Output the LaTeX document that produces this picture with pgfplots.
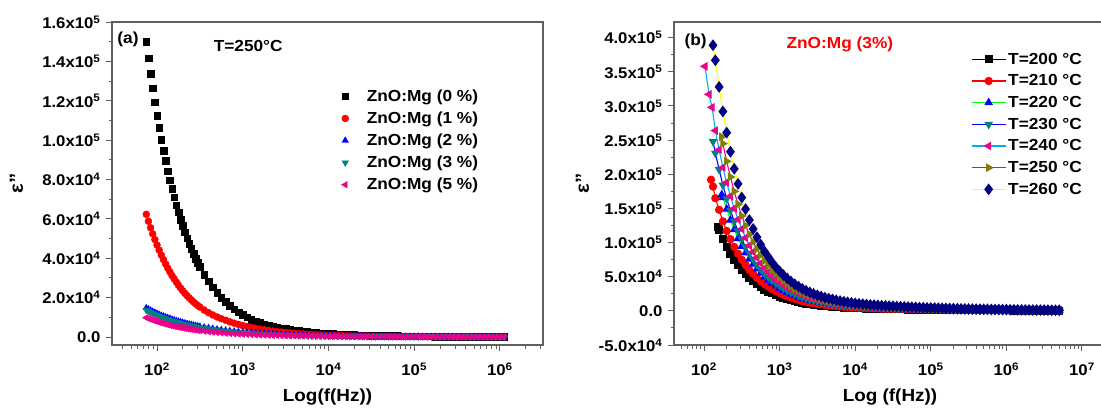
\documentclass[border=0pt]{standalone}
\usepackage{fontspec}
\setmainfont{Liberation Sans}[FakeStretch=1.08]
\usepackage{pgfplots}
\usepackage{pgfplotstable}
\pgfplotsset{compat=1.18}
\definecolor{axgray}{HTML}{606060}
\definecolor{tealc}{HTML}{008080}
\definecolor{olivec}{HTML}{808000}
\definecolor{navyc}{HTML}{000080}
\definecolor{greenl}{HTML}{00FF00}
\definecolor{yellowl}{HTML}{FFFF00}
\newcommand{\tkf}{\bfseries\fontsize{15.5}{18}\selectfont}
\newcommand{\lgf}{\bfseries\fontsize{16}{18}\selectfont}
\newcommand{\lbf}{\bfseries\fontsize{17.5}{20}\selectfont}

\pgfplotstableread{
f s0 s1 s2 s3 s5
75.0 150000 62300 14700 13700 9800
79.4 141700 58800 14100 13100 9400
84.1 133800 55500 13500 12600 9000
89.1 126300 52400 12900 12000 8600
94.4 119200 49500 12400 11500 8200
100 112500 46700 11900 11100 7800
105.9 106200 44100 11400 10600 7450
112.2 100300 41600 10900 10100 7100
118.9 94600 39300 10500 9800 6800
125.9 89400 37100 10100 9400 6500
133.4 84300 35000 9700 9000 6200
141.3 79600 33100 9300 8650 5950
149.6 75200 31200 8900 8300 5700
158.5 71000 29500 8600 8000 5450
167.9 67000 27900 8200 7600 5200
177.8 63300 26300 7900 7350 5000
188.4 59700 24900 7600 7050 4800
199.5 56400 23500 7300 6800 4600
211.3 53200 22200 7000 6500 4400
223.9 50200 21000 6700 6250 4200
237.1 47400 19900 6450 6000 4000
251.2 44800 18800 6200 5750 3850
266.1 42300 17800 5950 5550 3700
281.8 39900 16900 5700 5300 3550
298.5 37700 16000 5500 5100 3400
316.2 35600 15200 5300 4900 3250
354.8 31700 13700 4900 4550 2950
398.1 28300 12400 4550 4250 2700
446.7 25200 11200 4200 3900 2450
501.2 22400 10200 3900 3650 2250
562.3 20000 9300 3600 3350 2050
631.0 17800 8500 3350 3100 1900
707.9 15900 7700 3100 2900 1750
794.3 14200 7000 2850 2650 1600
891.3 12600 6400 2650 2450 1480
1000 11200 5800 2450 2300 1370
1122 10000 5300 2250 2100 1270
1259 8900 4850 2100 1950 1180
1413 8000 4400 1950 1800 1090
1585 7200 4000 1800 1700 1010
1778 6500 3650 1650 1550 940
1995 5900 3300 1520 1420 870
2239 5400 3000 1400 1300 810
2512 4900 2750 1300 1210 750
2818 4500 2500 1200 1120 700
3162 4100 2250 1100 1030 650
3548 3700 2050 1020 950 600
3981 3400 1850 950 890 560
4467 3100 1700 880 820 520
5012 2850 1550 820 765 490
5623 2600 1400 760 710 460
6310 2400 1280 700 655 430
7079 2200 1170 650 605 400
7943 2000 1070 600 560 375
8913 1850 980 560 520 350
10000 1700 900 520 485 330
11220 1570 830 490 455 310
12590 1450 760 460 430 290
14130 1350 700 430 400 275
15850 1250 650 400 375 260
17780 1150 600 375 350 245
19950 1060 560 350 328 230
22390 980 520 330 308 218
25120 900 480 310 290 206
28180 840 450 290 272 195
31620 780 420 275 258 185
35480 730 390 260 243 175
39810 680 370 245 230 166
44670 630 350 230 216 158
50120 590 330 220 206 150
56230 550 310 210 196 142
63100 510 290 200 187 135
70790 480 275 190 178 128
79430 450 260 180 169 122
89130 420 245 172 161 116
100000 400 230 165 155 110
112200 380 220 158 148 105
125900 360 210 152 142 100
141300 340 200 146 137 96
158500 320 190 140 131 92
177800 300 180 135 126 88
199500 285 172 130 122 84
223900 270 165 125 117 80
251200 255 158 120 113 77
281800 245 152 116 109 74
316200 235 146 112 105 71
354800 225 140 108 101 68
398100 215 135 104 98 65
446700 205 130 100 94 62
501200 195 125 97 91 60
562300 185 120 94 88 58
631000 178 116 91 85 56
707900 170 112 88 82 54
794300 163 108 85 80 52
891300 157 104 82 77 50
1000000 150 100 80 75 48
1122000 145 97 78 73 46
}\leftdata

\pgfplotstableread{
f T200 T210 T220 T230 T240 T250 T260
103 nan nan nan nan 358000 nan nan
116.5 nan nan nan nan 317000 nan nan
124 nan 192000 nan nan nan nan nan
128 nan nan nan nan 298000 nan nan
131.6 nan 182000 nan 248000 nan nan 389000
141.3 nan 165000 nan 231000 264000 nan 367000
153 123000 nan nan nan nan nan nan
158.5 118000 148000 nan 207000 236000 nan 328000
171.5 nan nan 170000 nan nan 255000 nan
177.8 105000 131000 166000 184000 210000 245000 292000
199.5 94000 117000 149000 164000 188000 219000 261000
223.9 83900 105000 133000 147000 168000 196000 233000
251.2 74900 93600 119000 131000 150000 175000 208000
281.8 67000 83700 106000 117000 134000 156000 186000
316.2 59800 74700 94600 105000 120000 139000 166000
354.8 53600 67100 84900 93900 107000 125000 149000
398.1 47900 59900 75800 83800 95800 112000 133000
446.7 43200 54000 68400 75600 86400 101000 120000
501.2 38900 48600 61600 68000 77800 90700 108000
562.3 34900 43700 55300 61100 69800 81500 97000
631.0 31300 39200 49600 54800 62600 73100 87000
707.9 28400 35600 45000 49800 56900 66400 79000
794.3 25600 32000 40500 44700 51100 59600 71000
891.3 23000 28800 36500 40300 46100 53800 64000
1000 20900 26100 33100 36500 41800 48700 58000
1122 18900 23600 29900 33100 37800 44100 52500
1259 17100 21400 27100 29900 34200 39900 47500
1413 15500 19400 24500 27100 31000 36100 43000
1585 14000 17600 22200 24600 28100 32800 39000
1778 12800 16000 20200 22400 25600 29800 35500
1995 11600 14500 18400 20300 23300 27100 32300
2239 10600 13300 16800 18600 21200 24800 29500
2512 9720 12200 15400 17000 19400 22700 27000
2818 8930 11200 14100 15600 17900 20800 24800
3162 8210 10300 13000 14400 16400 19200 22800
3548 7560 9450 12000 13200 15100 17600 21000
3981 6980 8730 11100 12200 14000 16300 19400
4467 6480 8100 10300 11300 13000 15100 18000
5012 6010 7520 9520 10500 12000 14000 16700
5623 5580 6980 8840 9770 11200 13000 15500
6310 5180 6480 8210 9070 10400 12100 14400
7079 4820 6030 7640 8440 9650 11300 13400
7943 4500 5630 7130 7880 9000 10500 12500
8913 4210 5270 6670 7370 8420 9830 11700
10000 3960 4950 6270 6930 7920 9240 11000
11220 3740 4670 5920 6540 7480 8720 10400
12590 3530 4410 5590 6170 7060 8230 9800
14130 3350 4180 5300 5850 6690 7800 9300
15850 3170 3960 5020 5540 6340 7390 8800
17780 3020 3780 4790 5290 6050 7050 8400
19950 2880 3600 4560 5040 5760 6720 8000
22390 2750 3440 4360 4820 5510 6420 7650
25120 2630 3290 4160 4600 5260 6130 7300
28180 2520 3150 3990 4410 5040 5880 7000
31620 2410 3020 3820 4220 4820 5630 6700
35480 2300 2880 3650 4030 4600 5370 6400
39810 2200 2750 3480 3840 4390 5120 6100
44670 2110 2630 3330 3680 4210 4910 5850
50120 2020 2520 3190 3530 4030 4700 5600
56230 1930 2410 3050 3370 3850 4490 5350
63100 1840 2300 2910 3210 3670 4280 5100
70790 1760 2210 2790 3080 3520 4110 4900
79430 1690 2120 2680 2960 3380 3950 4700
89130 1620 2030 2560 2830 3240 3780 4500
100000 1550 1940 2450 2710 3100 3610 4300
112200 1470 1850 2330 2580 2950 3440 4100
125900 1400 1760 2220 2460 2810 3280 3900
141300 1350 1690 2130 2360 2700 3150 3750
158500 1300 1620 2050 2270 2590 3020 3600
177800 1240 1550 1960 2170 2480 2890 3450
199500 1190 1490 1880 2080 2380 2770 3300
223900 1130 1420 1790 1980 2270 2640 3150
251200 1080 1350 1710 1890 2160 2520 3000
281800 1030 1290 1640 1810 2070 2410 2870
316200 990 1240 1570 1730 1980 2310 2750
354800 940 1180 1500 1650 1890 2200 2620
398100 900 1130 1430 1580 1800 2100 2500
446700 860 1080 1370 1510 1730 2010 2400
501200 830 1040 1310 1450 1660 1930 2300
562300 790 990 1250 1380 1580 1840 2200
631000 760 950 1200 1320 1510 1760 2100
707900 720 900 1140 1260 1440 1680 2000
794300 680 860 1080 1200 1370 1600 1900
891300 655 825 1040 1150 1310 1530 1820
1000000 630 790 1000 1100 1260 1470 1750
1122000 605 755 955 1055 1200 1400 1670
1259000 580 720 910 1010 1150 1340 1600
1413000 550 685 870 960 1090 1280 1520
1585000 520 650 830 910 1040 1220 1450
1778000 495 620 785 865 990 1150 1370
1995000 470 590 740 820 940 1090 1300
2239000 450 565 710 790 900 1050 1250
2512000 430 540 680 760 860 1010 1200
2818000 415 520 655 725 825 965 1150
3162000 400 500 630 690 790 920 1100
3548000 380 475 600 660 755 880 1050
3981000 360 450 570 630 720 840 1000
4467000 340 430 540 600 685 800 950
5012000 320 410 510 570 650 760 900
}\rightdata

\begin{document}
\begin{tikzpicture}
\path[use as bounding box] (0,0) rectangle (1101pt,408pt);
% ---------- panel (a) ----------
\begin{axis}[
  at={(112pt,63pt)}, anchor=south west, scale only axis, width=431pt, height=323pt,
  xmode=log,
  axis line style={draw=axgray, line width=1.2pt},
  every tick/.style={draw=axgray, line width=1pt},
  tick align=outside, xtick pos=left, ytick pos=left,
  major tick length=6pt, minor tick length=3.5pt,
  tick label style={font=\tkf},
  xticklabel style={yshift=-8pt},
  yticklabel style={xshift=-2pt},
  scaled y ticks=false, minor y tick num=1,
  label style={font=\lbf},
  xmin=29.85, xmax=3.18e6, ymin=-4064, ymax=160000,
  xtick={1e2,1e3,1e4,1e5,1e6},
  xticklabels={10\textsuperscript{2},10\textsuperscript{3},10\textsuperscript{4},10\textsuperscript{5},10\textsuperscript{6}},
  minor xtick={40,50,60,70,80,90,200,300,400,500,600,700,800,900,2000,3000,4000,5000,6000,7000,8000,9000,2e4,3e4,4e4,5e4,6e4,7e4,8e4,9e4,2e5,3e5,4e5,5e5,6e5,7e5,8e5,9e5,2e6,3e6},
  ytick={0,20000,40000,60000,80000,100000,120000,140000,160000},
  yticklabels={0.0,2.0x10\textsuperscript{4},4.0x10\textsuperscript{4},6.0x10\textsuperscript{4},8.0x10\textsuperscript{4},1.0x10\textsuperscript{5},1.2x10\textsuperscript{5},1.4x10\textsuperscript{5},1.6x10\textsuperscript{5}},
  xlabel={Log(f(Hz))},
  xlabel style={at={(axis description cs:0.5,-0.161)}, anchor=center},
  ylabel={\fontsize{19}{20}\selectfont ε"},
  ylabel style={at={(axis description cs:-0.222,0.5)}, anchor=center},
  legend style={draw=none, fill=none, at={(0.525,0.803)}, anchor=north west, font=\lgf, row sep=5pt,
    /tikz/every odd column/.append style={column sep=16pt}},
  legend cell align=left,
]
\addplot[only marks, mark=square*, mark size=3.3pt, color=black] table[x=f,y=s0]{\leftdata};
\addlegendentry{ZnO:Mg (0 \%)}
\addplot[only marks, mark=*, mark size=3.5pt, color=red] table[x=f,y=s1]{\leftdata};
\addlegendentry{ZnO:Mg (1 \%)}
\addplot[only marks, mark=triangle*, mark size=3.8pt, color=blue] table[x=f,y=s2]{\leftdata};
\addlegendentry{ZnO:Mg (2 \%)}
\addplot[only marks, mark=triangle*, mark size=3.8pt, color=tealc, mark options={rotate=180}] table[x=f,y=s3]{\leftdata};
\addlegendentry{ZnO:Mg (3 \%)}
\addplot[only marks, mark=triangle*, mark size=3.8pt, color=magenta, mark options={rotate=90}] table[x=f,y=s5]{\leftdata};
\addlegendentry{ZnO:Mg (5 \%)}
\node[font=\lgf] at (axis description cs:0.037,0.947) {(a)};
\node[font=\lgf] at (axis description cs:0.316,0.926) {T=250°C};
\end{axis}
% ---------- panel (b) ----------
\begin{axis}[
  at={(674pt,63pt)}, anchor=south west, scale only axis, width=432pt, height=323pt,
  xmode=log,
  axis line style={draw=axgray, line width=1.2pt},
  every tick/.style={draw=axgray, line width=1pt},
  tick align=outside, xtick pos=left, ytick pos=left,
  major tick length=6pt, minor tick length=3.5pt,
  tick label style={font=\tkf},
  xticklabel style={yshift=-8pt},
  yticklabel style={xshift=-2pt},
  scaled y ticks=false, minor y tick num=1,
  label style={font=\lbf},
  xmin=40.1, xmax=2.08e7, ymin=-50000, ymax=423000,
  xtick={1e2,1e3,1e4,1e5,1e6,1e7},
  xticklabels={10\textsuperscript{2},10\textsuperscript{3},10\textsuperscript{4},10\textsuperscript{5},10\textsuperscript{6},10\textsuperscript{7}},
  minor xtick={50,60,70,80,90,200,300,400,500,600,700,800,900,2000,3000,4000,5000,6000,7000,8000,9000,2e4,3e4,4e4,5e4,6e4,7e4,8e4,9e4,2e5,3e5,4e5,5e5,6e5,7e5,8e5,9e5,2e6,3e6,4e6,5e6,6e6,7e6,8e6,9e6,2e7},
  ytick={-50000,0,50000,100000,150000,200000,250000,300000,350000,400000},
  yticklabels={-5.0x10\textsuperscript{4},0.0,5.0x10\textsuperscript{4},1.0x10\textsuperscript{5},1.5x10\textsuperscript{5},2.0x10\textsuperscript{5},2.5x10\textsuperscript{5},3.0x10\textsuperscript{5},3.5x10\textsuperscript{5},4.0x10\textsuperscript{5}},
  xlabel={Log (f(Hz))},
  xlabel style={at={(axis description cs:0.5,-0.161)}, anchor=center},
  ylabel={\fontsize{19}{20}\selectfont ε"},
  ylabel style={at={(axis description cs:-0.212,0.5)}, anchor=center},
  legend style={draw=none, fill=none, at={(0.685,0.914)}, anchor=north west, font=\lgf, row sep=5pt, inner sep=1pt},
  legend cell align=left,
  legend image code/.code={\draw[mark repeat=2,mark phase=2,#1] plot coordinates {(0pt,0pt) (17pt,0pt) (34pt,0pt)};},
]
\addplot[black, line width=1.1pt, mark=square*, mark size=3.5pt, mark options={fill=black,draw=black}] table[x=f,y=T200]{\rightdata};
\addlegendentry{T=200 °C}
\addplot[red, line width=1.1pt, mark=*, mark size=3.6pt, mark options={fill=red,draw=red}] table[x=f,y=T210]{\rightdata};
\addlegendentry{T=210 °C}
\addplot[greenl, line width=1.1pt, mark=triangle*, mark size=4pt, mark options={fill=blue,draw=blue}] table[x=f,y=T220]{\rightdata};
\addlegendentry{T=220 °C}
\addplot[blue, line width=1.1pt, mark=triangle*, mark size=4pt, mark options={fill=tealc,draw=tealc,rotate=180}] table[x=f,y=T230]{\rightdata};
\addlegendentry{T=230 °C}
\addplot[cyan, line width=1.1pt, mark=triangle*, mark size=4pt, mark options={fill=magenta,draw=magenta,rotate=90}] table[x=f,y=T240]{\rightdata};
\addlegendentry{T=240 °C}
\addplot[magenta, line width=1.1pt, mark=triangle*, mark size=4pt, mark options={fill=olivec,draw=olivec,rotate=-90}] table[x=f,y=T250]{\rightdata};
\addlegendentry{T=250 °C}
\addplot[yellowl, line width=1.1pt, mark=diamond*, mark size=5pt, mark options={fill=navyc,draw=navyc}] table[x=f,y=T260]{\rightdata};
\addlegendentry{T=260 °C}
\node[font=\lgf] at (axis description cs:0.05,0.941) {(b)};
\node[font=\lgf, text=red] at (axis description cs:0.384,0.932) {ZnO:Mg (3\%)};
\end{axis}
\end{tikzpicture}
\end{document}
